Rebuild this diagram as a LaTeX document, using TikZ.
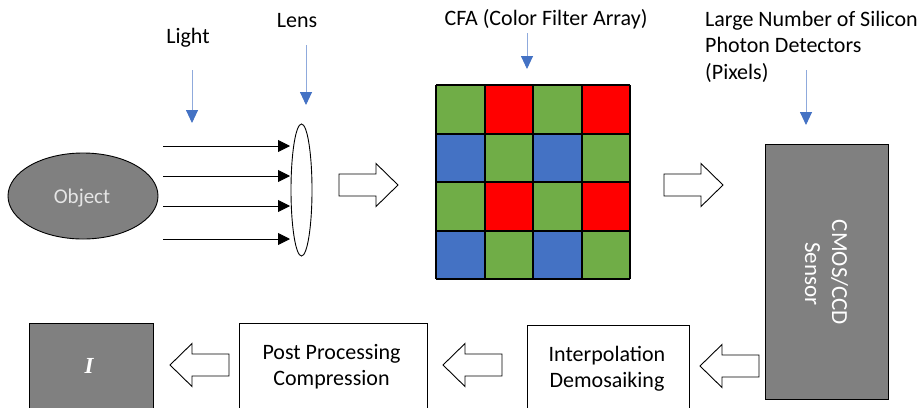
\documentclass[tikz,border=0pt]{standalone}
\usepackage{fontspec}
\setmainfont{Carlito}
\usetikzlibrary{shapes.geometric,arrows.meta}
\definecolor{objgray}{RGB}{128,128,128}
\definecolor{cfagreen}{RGB}{112,173,71}
\definecolor{cfared}{RGB}{255,0,0}
\definecolor{cfablue}{RGB}{68,114,196}
\definecolor{ptrline}{RGB}{143,170,220}
\tikzset{
  lbl/.style={font=\fontsize{22}{26.5}\selectfont, inner sep=0pt, anchor=base},
  ptr/.style={draw=ptrline, line width=0.9pt, -{Triangle[length=13pt,width=12pt,color=cfablue]}},
  ray/.style={line width=0.9pt, -{Triangle[length=12pt,width=12pt]}},
  procbox/.style={draw, line width=0.9pt, fill=white, minimum height=95pt, anchor=north west, inner sep=0pt},
  darkbox/.style={draw, line width=0.9pt, fill=objgray, anchor=north west, inner sep=0pt},
  blk/.pic={\draw[line width=0.9pt, fill=white] (0,-11) -- (37,-11) -- (37,-21.5) -- (59,0) -- (37,21.5) -- (37,11) -- (0,11) -- cycle;}
}
\begin{document}
\begin{tikzpicture}[x=1pt,y=-1pt]
\useasboundingbox (0,0) rectangle (920,407);
\clip (0,0) rectangle (920,407);
\fill[white] (0,0) rectangle (920,407);

% object and lens
\node[ellipse, draw, line width=0.9pt, fill=objgray, minimum width=150pt, minimum height=86pt, inner sep=0pt] (obj) at (83,196) {};
\node[lbl, text=black!10, font=\fontsize{21}{21}\selectfont] (objtxt) at (82,203) {Object};
\node[ellipse, draw, line width=0.9pt, minimum width=21pt, minimum height=132pt, inner sep=0pt] (lens) at (301.5,190) {};

% labels
\node[lbl] (light) at (188,43) {Light};
\node[lbl] (lenslbl) at (297,27) {Lens};
\node[lbl] (cfalbl) at (546,25) {CFA (Color Filter Array)};
\node[lbl, anchor=base west] (silA) at (705,26) {Large Number of Silicon};
\node[lbl, anchor=base west] (silB) at (705,52.5) {Photon Detectors};
\node[lbl, anchor=base west] (silC) at (705,79) {(Pixels)};

% pointer arrows
\coordinate (p1s) at (192,70);  \coordinate (p1e) at (192,123);
\coordinate (p2s) at (306,45);  \coordinate (p2e) at (306,105);
\coordinate (p3s) at (527,33);  \coordinate (p3e) at (527,69);
\coordinate (p4s) at (806,70);  \coordinate (p4e) at (806,125);
\draw[ptr] (p1s) -- (p1e);
\draw[ptr] (p2s) -- (p2e);
\draw[ptr] (p3s) -- (p3e);
\draw[ptr] (p4s) -- (p4e);

% light rays
\foreach \yy [count=\i] in {146,176,206,239}{
  \coordinate (rs\i) at (163,\yy);
  \coordinate (re\i) at (290,\yy);
  \draw[ray] (rs\i) -- (re\i);
}

% CFA grid
\def\cs{48.5}
\foreach \r in {0,1,2,3}{
  \foreach \c in {0,1,2,3}{
    \pgfmathsetmacro{\re}{mod(\r,2)}
    \pgfmathsetmacro{\ce}{mod(\c,2)}
    \ifdim\re pt=0pt
      \ifdim\ce pt=0pt \def\cc{cfagreen}\else \def\cc{cfared}\fi
    \else
      \ifdim\ce pt=0pt \def\cc{cfablue}\else \def\cc{cfagreen}\fi
    \fi
    \fill[\cc] (436+\c*\cs,85+\r*\cs) rectangle ++(\cs,\cs);
  }
}
\foreach \k in {0,1,2,3,4}{
  \draw[line width=2pt] (436+\k*\cs,85) -- (436+\k*\cs,85+4*\cs);
  \draw[line width=2pt] (436,85+\k*\cs) -- (436+4*\cs,85+\k*\cs);
}
\node[inner sep=0pt, minimum size=194pt] (cfa) at (436+2*\cs,85+2*\cs) {};

% sensor
\node[darkbox, minimum width=123pt, minimum height=255pt] (sensor) at (765,144) {};
\node[lbl, rotate=-90, text=white, font=\fontsize{23}{23}\selectfont] (sensA) at (832,272.5) {CMOS/CCD};
\node[lbl, rotate=-90, text=white, font=\fontsize{23}{23}\selectfont] (sensB) at (805,274) {Sensor};

% block arrows
\pic at (339,185) {blk};
\pic at (664,185) {blk};
\pic[xscale=-1] at (759,366) {blk};
\pic[xscale=-1] at (502,365) {blk};
\pic[xscale=-1] at (229,365) {blk};

% bottom boxes
\node[procbox, minimum width=162pt] (interp) at (527,325) {};
\node[lbl] (interpA) at (607,361) {Interpolation};
\node[lbl] (interpB) at (607,387) {Demosaiking};
\node[procbox, minimum width=188pt] (post) at (239,323) {};
\node[lbl] (postA) at (331.5,359) {Post Processing};
\node[lbl] (postB) at (331.5,385.5) {Compression};
\node[darkbox, minimum width=124pt, minimum height=95pt] (img) at (29,323) {};
\node[lbl, text=white, font=\fontsize{23}{23}\bfseries\itshape\selectfont] (itxt) at (89,373) {\fontspec{Liberation Serif}[BoldItalicFont={* Bold Italic}]I};
\end{tikzpicture}
\end{document}
